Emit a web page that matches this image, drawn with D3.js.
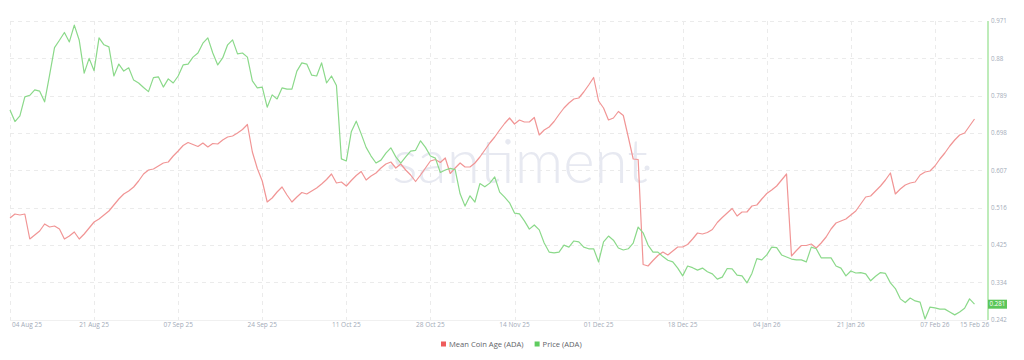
<!DOCTYPE html>
<html><head><meta charset="utf-8">
<script src="https://cdn.jsdelivr.net/npm/d3@7/dist/d3.min.js"></script>
<style>
html,body{margin:0;padding:0;background:#fff;}
svg{display:block;font-family:"Open Sans","Noto Sans",sans-serif;}
</style></head>
<body><svg id="c" width="1024" height="360"></svg>
<script>
// ---- data ----
const startDate = "2025-08-04";           // first daily point
const endDate = "2026-02-15";             // last daily point
const priceADA = [
0.754,0.726,0.740,0.786,0.790,0.803,0.800,0.774,0.839,0.906,
0.924,0.943,0.920,0.961,0.924,0.844,0.880,0.850,0.930,0.913,
0.908,0.837,0.866,0.849,0.857,0.827,0.820,0.809,0.799,0.833,
0.835,0.810,0.830,0.820,0.837,0.864,0.866,0.883,0.893,0.917,
0.930,0.893,0.864,0.881,0.913,0.925,0.891,0.893,0.883,0.825,
0.808,0.810,0.761,0.791,0.781,0.808,0.805,0.805,0.849,0.869,
0.866,0.839,0.837,0.869,0.820,0.837,0.814,0.635,0.630,0.701,
0.727,0.696,0.663,0.642,0.625,0.632,0.649,0.662,0.640,0.625,
0.640,0.654,0.656,0.679,0.663,0.642,0.637,0.602,0.608,0.612,
0.609,0.550,0.520,0.545,0.530,0.575,0.567,0.576,0.591,0.554,
0.542,0.528,0.503,0.501,0.484,0.464,0.474,0.462,0.430,0.408,
0.406,0.408,0.425,0.420,0.435,0.433,0.420,0.416,0.416,0.384,
0.433,0.447,0.437,0.418,0.413,0.416,0.430,0.469,0.455,0.425,
0.408,0.408,0.397,0.388,0.384,0.369,0.350,0.374,0.370,0.364,
0.369,0.360,0.355,0.342,0.347,0.368,0.367,0.352,0.350,0.333,
0.356,0.392,0.389,0.401,0.420,0.419,0.401,0.396,0.391,0.389,
0.389,0.384,0.420,0.416,0.394,0.394,0.394,0.374,0.369,0.350,
0.362,0.357,0.358,0.355,0.338,0.349,0.358,0.356,0.333,0.319,
0.294,0.285,0.296,0.289,0.286,0.245,0.274,0.272,0.269,0.269,
0.262,0.255,0.262,0.271,0.294,0.281];
const meanCoinAge = [
102,106,105,106,81,85,89,96,93,94,
91,81,84,88,81,86,92,98,101,105,
109,115,121,126,129,133,139,146,150,151,
154,157,158,164,169,174.5,177.5,175.5,173.5,177,
173,176.5,176,180,183,184,187,190.5,195.5,168,
151.5,139,118,122,128,133,125,118,123,127.5,
126,129,132,136,140.5,146,137,138,134,139.5,
144.5,148.5,140,144,147,152,156,158,152,156,
150,145,138.5,145,152,159,160.5,157.5,162,146.5,
152,157,153,153,157,163,170,177,183,190,
196.5,202,196,200,198,198,202.5,185,190,193,
198.5,205.5,212,217,221,222,228,235,242.5,219,
212,200,202,208.5,204.5,183,161,160.5,55.5,54,
59.5,64.5,68,65,69,73,73,75.5,81,87,
86,87.5,90.5,97.5,102.5,107,111.5,104,108,108,
114,115,121,126.5,130,134,140,146,64,69.5,
74.5,74.5,76,72,77,83,91,97,99,101,
105,109,116,123,124,129,134,140,147,126,
131,135,137,138,145,148,149,154,161,167,
174,180,185,187,194,201];
const priceTicks = [0.242,0.334,0.425,0.516,0.607,0.698,0.789,0.88,0.971];
const dateTicks = ["2025-08-04","2025-08-21","2025-09-07","2025-09-24","2025-10-11","2025-10-28",
                   "2025-11-14","2025-12-01","2025-12-18","2026-01-04","2026-01-21","2026-02-07"];
const lastLabel = "15 Feb 26";
const priceLabel = "0.281";
const seriesNames = ["Mean Coin Age (ADA)","Price (ADA)"];

// ---- layout ----
const svg = d3.select("#c");
const L = 10, R = 974.5, T = 21, B = 320, AX = 988;
const parse = d3.utcParse("%Y-%m-%d");
const t0 = parse(startDate), t1 = parse(endDate);
const dates = priceADA.map((_, i) => d3.utcDay.offset(t0, i));

const x = d3.scaleUtc().domain([t0, t1]).range([L, R]);
const yP = d3.scaleLinear().domain([0.2425, 0.971]).range([B, T]);
const yA = d3.scaleLinear().domain([0, 299]).range([B, T]);

const gridCol = "#ebebeb";
// horizontal grid
svg.append("g").selectAll("line").data(priceTicks.slice(1)).join("line")
  .attr("x1", L).attr("x2", AX - 3)
  .attr("y1", d => Math.round(yP(d)) + 0.5).attr("y2", d => Math.round(yP(d)) + 0.5)
  .attr("stroke", gridCol).attr("stroke-dasharray", "4,4");
// vertical grid
const tickDates = dateTicks.map(parse);
svg.append("g").selectAll("line").data(tickDates).join("line")
  .attr("x1", d => Math.round(x(d)) + 0.5).attr("x2", d => Math.round(x(d)) + 0.5)
  .attr("y1", T).attr("y2", B)
  .attr("stroke", gridCol).attr("stroke-dasharray", "4,4");
// baseline
svg.append("line").attr("x1", L).attr("x2", AX).attr("y1", B + 0.5).attr("y2", B + 0.5)
  .attr("stroke", "#f0f0f0");

// watermark
svg.append("text").attr("x", 520).attr("y", 183).attr("text-anchor", "middle")
  .attr("font-family", "Lato, 'Open Sans', sans-serif").attr("font-weight", 300)
  .attr("font-size", 62).attr("fill", "#e7e9f1").attr("textLength", 256)
  .attr("lengthAdjust", "spacingAndGlyphs").text("santiment");
svg.append("circle").attr("cx", 391).attr("cy", 167).attr("r", 2.5).attr("fill", "#e7e9f1");
svg.append("circle").attr("cx", 647).attr("cy", 168).attr("r", 2.5).attr("fill", "#e7e9f1");

// x labels
const fmt = d3.utcFormat("%d %b %y");
svg.append("g").selectAll("text").data(tickDates).join("text")
  .attr("x", (d, i) => i === 0 ? x(d) + 2 : x(d))
  .attr("y", 327)
  .attr("text-anchor", (d, i) => i === 0 ? "start" : "middle")
  .attr("font-size", 6.5).attr("fill", "#a3abb8").text(d => fmt(d));
svg.append("text").attr("x", x(t1)).attr("y", 327).attr("text-anchor", "middle")
  .attr("font-size", 6.5).attr("fill", "#a3abb8").text(lastLabel);

// right axis
svg.append("line").attr("x1", AX).attr("x2", AX).attr("y1", T).attr("y2", B)
  .attr("stroke", "#a8e6a3").attr("stroke-width", 1.5);
svg.append("g").selectAll("text").data(priceTicks).join("text")
  .attr("x", AX + 3).attr("y", d => yP(d) + 2.2)
  .attr("font-size", 6.2).attr("fill", "#a3abb8").text(d => d);

// lines
const lineA = d3.line().x((d, i) => x(dates[i])).y(d => yA(d));
const lineP = d3.line().x((d, i) => x(dates[i])).y(d => yP(d));
svg.append("path").datum(meanCoinAge).attr("d", lineA).attr("fill", "none")
  .attr("stroke", "#f19595").attr("stroke-width", 1.2).attr("stroke-linejoin", "round");
svg.append("path").datum(priceADA).attr("d", lineP).attr("fill", "none")
  .attr("stroke", "#8bd98a").attr("stroke-width", 1.2).attr("stroke-linejoin", "round");

// current price badge
const lastP = priceADA[priceADA.length - 1];
svg.append("rect").attr("x", AX).attr("y", yP(lastP) - 4.5).attr("width", 19).attr("height", 9)
  .attr("fill", "#5cc65a");
svg.append("text").attr("x", AX + 9.5).attr("y", yP(lastP) + 2.2).attr("text-anchor", "middle")
  .attr("font-size", 6.2).attr("fill", "#fff").text(priceLabel);

// legend
const legCols = ["#ee5c5c", "#5fcc5f"];
const leg = svg.append("g");
let lx = 441;
seriesNames.forEach((n, i) => {
  leg.append("rect").attr("x", lx).attr("y", 341.5).attr("width", 5).attr("height", 5).attr("fill", legCols[i]);
  const t = leg.append("text").attr("x", lx + 8).attr("y", 346.5).attr("font-size", 7.6)
    .attr("fill", "#5f6368").text(n);
  lx += 8 + t.node().getComputedTextLength() + 11;
});
</script></body></html>
